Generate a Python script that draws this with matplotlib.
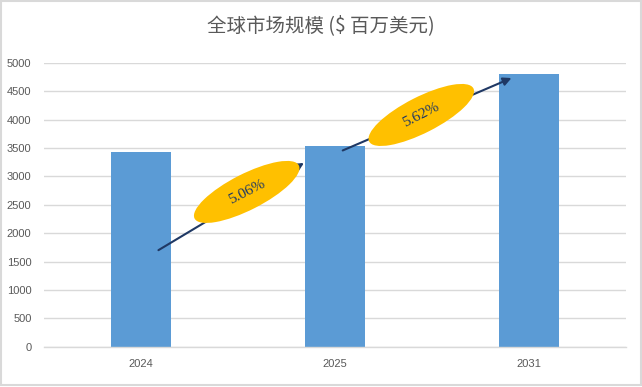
import matplotlib
matplotlib.use("Agg")
import matplotlib.pyplot as plt
from matplotlib.patches import Ellipse, Rectangle
from matplotlib.transforms import ScaledTranslation

plt.rcParams['font.family'] = ['Noto Sans CJK SC', 'DejaVu Sans']

years = ['2024', '2025', '2031']
market = [3420, 3535, 4800]
growth_labels = ['5.06%', '5.62%']
# arrows between bars: (x0, y0, x1, y1) in category / value units
arrows = [(0.09, 1700, 0.84, 3235), (1.04, 3455, 1.91, 4730)]
badges = [(0.545, 2725), (1.445, 4080)]

BAR = '#5B9BD5'
GRID = '#D9D9D9'
TXT = '#595959'
NAVY = '#1F3864'
GOLD = '#FFC000'

fig = plt.figure(figsize=(6.42, 3.87), dpi=100)
ax = fig.add_axes([0.0685, 0.104, 0.9065, 0.734])

x = range(len(years))
ax.bar(x, market, width=0.31, color=BAR, zorder=2)

ax.set_xlim(-0.5, 2.5)
ax.set_ylim(0, 5000)
ax.set_yticks(range(0, 5001, 500))
ax.set_xticks(list(x))
ax.set_xticklabels(years)
ax.tick_params(axis='both', length=0, colors=TXT, labelsize=8)
ax.tick_params(axis='y', pad=9)
ax.tick_params(axis='x', pad=9)
for lab in ax.get_xticklabels() + ax.get_yticklabels():
    lab.set_fontfamily('Liberation Sans')
ax.grid(axis='y', color=GRID, linewidth=1, zorder=0)
for s in ['top', 'right', 'left']:
    ax.spines[s].set_visible(False)
ax.spines['bottom'].set_color(GRID)
ax.spines['bottom'].set_linewidth(1)

for (x0, y0, x1, y1) in arrows:
    ax.annotate('', xy=(x1, y1), xytext=(x0, y0),
                arrowprops=dict(arrowstyle='-|>', color=NAVY, lw=1.5,
                                mutation_scale=12, shrinkA=0, shrinkB=0),
                zorder=3)

for (bx, by), lab in zip(badges, growth_labels):
    tr = fig.dpi_scale_trans + ScaledTranslation(bx, by, ax.transData)
    ax.add_patch(Ellipse((0, 0), 1.17, 0.36, angle=27, transform=tr,
                         facecolor=GOLD, edgecolor='none', zorder=4))
    ax.text(bx, by, lab, rotation=27, ha='center', va='center',
            rotation_mode='anchor', fontsize=11, color=NAVY,
            fontfamily='Liberation Serif', zorder=5)

fig.text(0.5, 0.935, '全球市场规模 ($ 百万美元)', ha='center', va='center',
         fontsize=14, color=TXT)

fig.patches.append(Rectangle((0.002, 0.004), 0.996, 0.994, transform=fig.transFigure,
                             fill=False, edgecolor=GRID, linewidth=1.5))

fig.savefig('out.png', dpi=100)
